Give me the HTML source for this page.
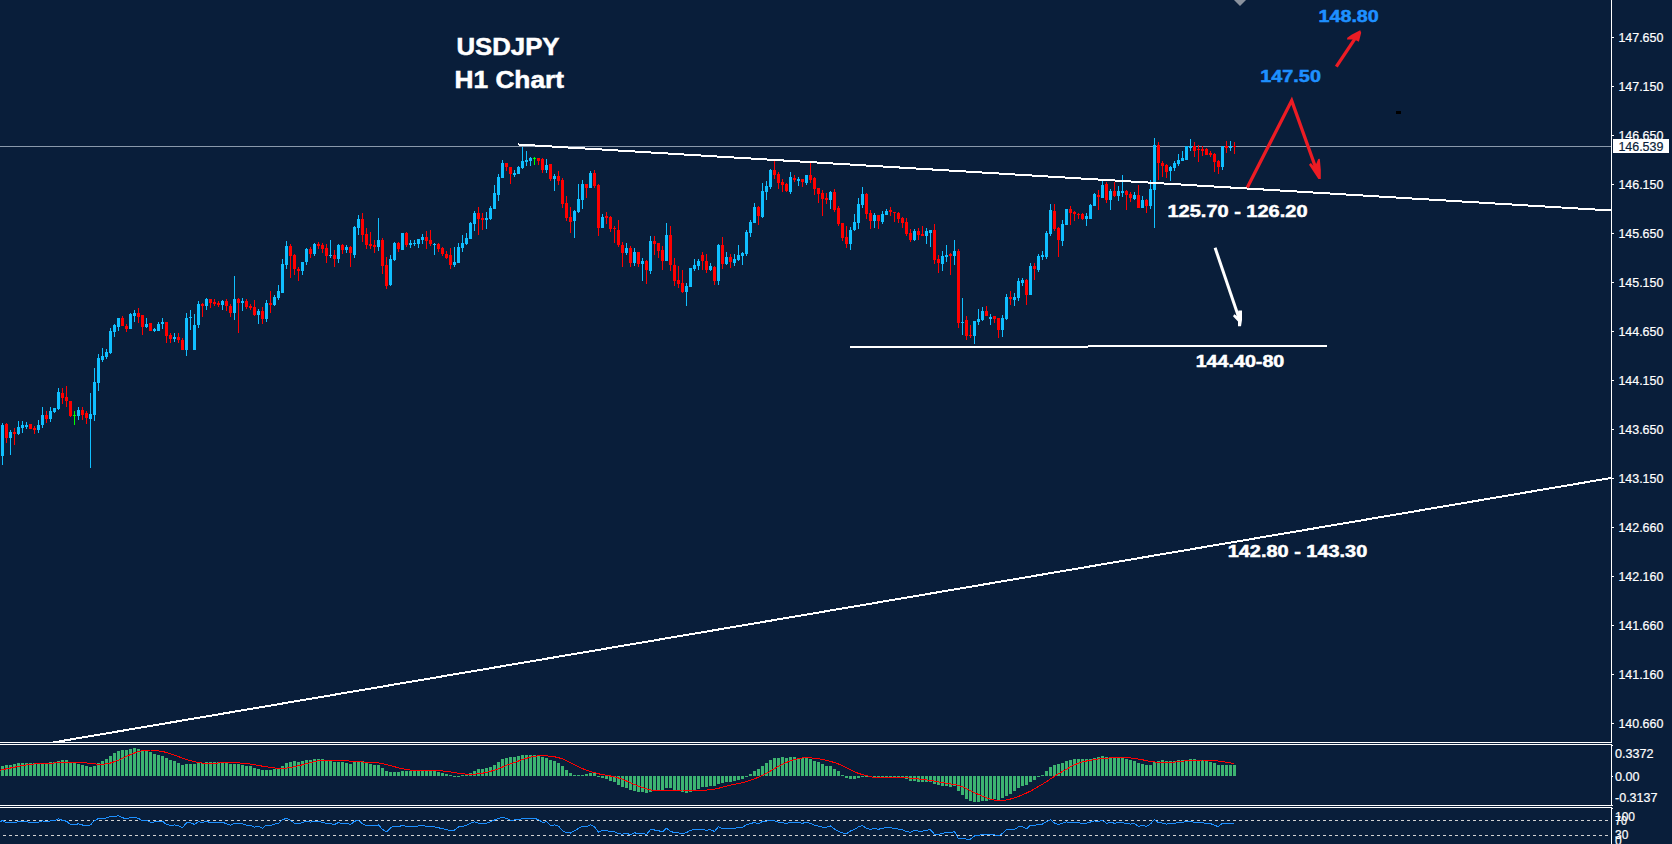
<!DOCTYPE html>
<html><head><meta charset="utf-8"><title>USDJPY H1 Chart</title>
<style>html,body{margin:0;padding:0;background:#091e3a;width:1672px;height:844px;overflow:hidden}</style>
</head><body>
<svg width="1672" height="844" viewBox="0 0 1672 844" style="position:absolute;left:0;top:0">
<rect width="1672" height="844" fill="#091e3a"/>
<g shape-rendering="crispEdges">
<rect x="0" y="146" width="1611" height="1" fill="#8a99ab"/>
<path fill="#10bfff" d="M2 423h1v42h-1zM1 425h3v31h-3zM10 430h1v25h-1zM9 432h3v6h-3zM18 421h1v14h-1zM17 427h3v7h-3zM22 421h1v12h-1zM21 425h3v3h-3zM26 422h1v7h-1zM25 425h3v2h-3zM38 420h1v13h-1zM37 425h3v5h-3zM42 407h1v21h-1zM41 415h3v10h-3zM50 407h1v15h-1zM49 411h3v8h-3zM54 408h1v5h-1zM53 408h3v4h-3zM58 388h1v22h-1zM57 392h3v17h-3zM78 407h1v13h-1zM77 410h3v6h-3zM90 393h1v75h-1zM89 414h3v5h-3zM94 368h1v53h-1zM93 382h3v33h-3zM98 354h1v37h-1zM97 358h3v25h-3zM102 348h1v14h-1zM101 356h3v4h-3zM106 349h1v10h-1zM105 352h3v5h-3zM110 328h1v26h-1zM109 331h3v22h-3zM114 324h1v13h-1zM113 325h3v7h-3zM118 318h1v13h-1zM117 318h3v9h-3zM130 313h1v16h-1zM129 314h3v15h-3zM134 310h1v12h-1zM133 313h3v3h-3zM146 318h1v10h-1zM145 324h3v3h-3zM154 328h1v4h-1zM153 329h3v2h-3zM158 322h1v9h-1zM157 324h3v7h-3zM162 318h1v11h-1zM161 322h3v2h-3zM174 333h1v9h-1zM173 337h3v2h-3zM186 313h1v43h-1zM185 318h3v32h-3zM190 310h1v20h-1zM189 317h3v1h-3zM194 314h1v36h-1zM193 325h3v25h-3zM198 301h1v27h-1zM197 304h3v21h-3zM206 298h1v12h-1zM205 299h3v7h-3zM222 300h1v10h-1zM221 301h3v4h-3zM234 276h1v44h-1zM233 299h3v14h-3zM242 298h1v13h-1zM241 301h3v2h-3zM258 309h1v15h-1zM257 311h3v4h-3zM266 300h1v22h-1zM265 303h3v16h-3zM274 295h1v11h-1zM273 297h3v8h-3zM278 285h1v15h-1zM277 291h3v7h-3zM282 259h1v34h-1zM281 264h3v29h-3zM286 241h1v28h-1zM285 246h3v19h-3zM302 262h1v13h-1zM301 262h3v9h-3zM306 248h1v17h-1zM305 249h3v13h-3zM314 243h1v13h-1zM313 244h3v10h-3zM330 240h1v18h-1zM329 255h3v1h-3zM338 244h1v19h-1zM337 245h3v14h-3zM346 245h1v8h-1zM345 247h3v3h-3zM354 226h1v32h-1zM353 227h3v28h-3zM358 215h1v20h-1zM357 219h3v9h-3zM378 218h1v33h-1zM377 240h3v7h-3zM390 255h1v31h-1zM389 259h3v26h-3zM394 242h1v19h-1zM393 243h3v17h-3zM402 233h1v17h-1zM401 233h3v17h-3zM410 240h1v8h-1zM409 243h3v2h-3zM414 240h1v6h-1zM413 243h3v1h-3zM418 239h1v9h-1zM417 239h3v5h-3zM422 234h1v10h-1zM421 237h3v3h-3zM434 243h1v12h-1zM433 244h3v1h-3zM454 247h1v20h-1zM453 262h3v3h-3zM458 243h1v20h-1zM457 247h3v16h-3zM462 235h1v17h-1zM461 243h3v5h-3zM466 233h1v12h-1zM465 238h3v6h-3zM470 222h1v17h-1zM469 223h3v16h-3zM474 211h1v20h-1zM473 213h3v11h-3zM486 212h1v17h-1zM485 218h3v2h-3zM490 206h1v14h-1zM489 208h3v11h-3zM494 185h1v24h-1zM493 193h3v16h-3zM498 174h1v27h-1zM497 177h3v18h-3zM502 160h1v18h-1zM501 163h3v15h-3zM514 170h1v7h-1zM513 173h3v2h-3zM518 166h1v8h-1zM517 167h3v7h-3zM522 147h1v22h-1zM521 161h3v7h-3zM526 151h1v15h-1zM525 160h3v2h-3zM530 157h1v9h-1zM529 158h3v3h-3zM546 159h1v14h-1zM545 165h3v5h-3zM554 174h1v17h-1zM553 176h3v3h-3zM574 210h1v28h-1zM573 211h3v10h-3zM578 184h1v29h-1zM577 199h3v13h-3zM582 180h1v29h-1zM581 184h3v16h-3zM590 171h1v17h-1zM589 173h3v15h-3zM602 214h1v14h-1zM601 217h3v11h-3zM626 243h1v12h-1zM625 248h3v5h-3zM634 248h1v18h-1zM633 252h3v11h-3zM642 258h1v23h-1zM641 261h3v3h-3zM650 236h1v38h-1zM649 241h3v30h-3zM666 223h1v38h-1zM665 235h3v26h-3zM686 283h1v23h-1zM685 286h3v6h-3zM690 268h1v19h-1zM689 268h3v19h-3zM694 259h1v12h-1zM693 265h3v4h-3zM698 259h1v11h-1zM697 261h3v5h-3zM710 263h1v8h-1zM709 266h3v4h-3zM718 244h1v41h-1zM717 245h3v36h-3zM726 252h1v13h-1zM725 257h3v7h-3zM734 254h1v12h-1zM733 259h3v4h-3zM738 245h1v16h-1zM737 255h3v5h-3zM742 252h1v13h-1zM741 253h3v3h-3zM746 230h1v26h-1zM745 232h3v22h-3zM750 220h1v17h-1zM749 222h3v11h-3zM754 203h1v20h-1zM753 207h3v16h-3zM762 183h1v35h-1zM761 191h3v26h-3zM766 181h1v19h-1zM765 186h3v6h-3zM770 169h1v20h-1zM769 170h3v17h-3zM790 172h1v22h-1zM789 177h3v15h-3zM798 177h1v9h-1zM797 179h3v2h-3zM806 175h1v10h-1zM805 175h3v8h-3zM830 191h1v18h-1zM829 192h3v8h-3zM850 227h1v23h-1zM849 230h3v14h-3zM854 214h1v17h-1zM853 222h3v8h-3zM858 198h1v31h-1zM857 204h3v19h-3zM862 187h1v21h-1zM861 194h3v11h-3zM874 213h1v15h-1zM873 215h3v6h-3zM882 211h1v13h-1zM881 214h3v8h-3zM886 209h1v6h-1zM885 211h3v4h-3zM914 229h1v12h-1zM913 231h3v9h-3zM926 228h1v16h-1zM925 231h3v5h-3zM930 230h1v17h-1zM929 230h3v3h-3zM942 251h1v20h-1zM941 256h3v8h-3zM946 245h1v17h-1zM945 255h3v2h-3zM954 240h1v25h-1zM953 251h3v5h-3zM962 298h1v37h-1zM961 322h3v1h-3zM974 321h1v23h-1zM973 321h3v15h-3zM978 309h1v16h-1zM977 319h3v3h-3zM982 307h1v14h-1zM981 311h3v9h-3zM990 314h1v11h-1zM989 317h3v2h-3zM1002 315h1v22h-1zM1001 318h3v12h-3zM1006 294h1v26h-1zM1005 297h3v22h-3zM1014 293h1v13h-1zM1013 297h3v3h-3zM1018 278h1v23h-1zM1017 281h3v17h-3zM1022 278h1v8h-1zM1021 280h3v3h-3zM1030 263h1v32h-1zM1029 266h3v29h-3zM1038 254h1v18h-1zM1037 256h3v14h-3zM1042 251h1v9h-1zM1041 255h3v2h-3zM1046 231h1v28h-1zM1045 233h3v24h-3zM1050 204h1v32h-1zM1049 210h3v24h-3zM1062 220h1v26h-1zM1061 224h3v17h-3zM1066 209h1v16h-1zM1065 209h3v16h-3zM1086 213h1v13h-1zM1085 216h3v3h-3zM1090 204h1v15h-1zM1089 205h3v14h-3zM1094 193h1v13h-1zM1093 194h3v12h-3zM1102 181h1v17h-1zM1101 185h3v13h-3zM1110 189h1v21h-1zM1109 191h3v9h-3zM1118 186h1v15h-1zM1117 191h3v5h-3zM1122 175h1v22h-1zM1121 191h3v2h-3zM1134 192h1v8h-1zM1133 195h3v4h-3zM1142 196h1v12h-1zM1141 200h3v8h-3zM1150 180h1v29h-1zM1149 189h3v17h-3zM1154 138h1v90h-1zM1153 145h3v45h-3zM1170 166h1v15h-1zM1169 167h3v4h-3zM1174 161h1v10h-1zM1173 163h3v5h-3zM1178 154h1v12h-1zM1177 160h3v4h-3zM1182 151h1v10h-1zM1181 158h3v3h-3zM1186 146h1v14h-1zM1185 146h3v14h-3zM1190 139h1v12h-1zM1189 146h3v2h-3zM1222 146h1v24h-1zM1221 146h3v21h-3zM1230 141h1v10h-1zM1229 146h3v2h-3z"/>
<path fill="#ff0000" d="M6 423h1v20h-1zM5 424h3v14h-3zM14 428h1v17h-1zM13 432h3v2h-3zM30 424h1v5h-1zM29 424h3v5h-3zM34 426h1v8h-1zM33 428h3v2h-3zM46 411h1v12h-1zM45 415h3v4h-3zM62 388h1v16h-1zM61 393h3v5h-3zM66 386h1v21h-1zM65 397h3v4h-3zM70 401h1v16h-1zM69 401h3v15h-3zM82 407h1v13h-1zM81 410h3v5h-3zM86 411h1v13h-1zM85 413h3v5h-3zM122 316h1v10h-1zM121 318h3v8h-3zM126 324h1v8h-1zM125 326h3v3h-3zM138 308h1v15h-1zM137 313h3v4h-3zM142 315h1v20h-1zM141 315h3v12h-3zM150 323h1v8h-1zM149 323h3v8h-3zM166 322h1v21h-1zM165 322h3v14h-3zM170 333h1v10h-1zM169 335h3v4h-3zM178 333h1v10h-1zM177 337h3v3h-3zM182 338h1v12h-1zM181 340h3v10h-3zM202 303h1v14h-1zM201 304h3v2h-3zM210 299h1v9h-1zM209 299h3v4h-3zM214 299h1v7h-1zM213 302h3v2h-3zM218 301h1v6h-1zM217 303h3v2h-3zM226 299h1v12h-1zM225 301h3v5h-3zM230 304h1v13h-1zM229 306h3v7h-3zM238 298h1v35h-1zM237 299h3v4h-3zM246 299h1v10h-1zM245 301h3v6h-3zM250 304h1v6h-1zM249 306h3v2h-3zM254 300h1v16h-1zM253 307h3v8h-3zM262 307h1v17h-1zM261 311h3v8h-3zM270 291h1v22h-1zM269 303h3v2h-3zM290 244h1v34h-1zM289 246h3v10h-3zM294 254h1v21h-1zM293 255h3v14h-3zM298 267h1v14h-1zM297 269h3v2h-3zM310 247h1v11h-1zM309 249h3v5h-3zM318 242h1v7h-1zM317 244h3v2h-3zM322 243h1v10h-1zM321 245h3v4h-3zM326 244h1v19h-1zM325 248h3v8h-3zM334 250h1v17h-1zM333 255h3v4h-3zM342 244h1v10h-1zM341 245h3v5h-3zM350 246h1v21h-1zM349 247h3v6h-3zM362 213h1v29h-1zM361 219h3v16h-3zM366 228h1v21h-1zM365 234h3v11h-3zM370 232h1v17h-1zM369 244h3v2h-3zM374 240h1v13h-1zM373 245h3v2h-3zM382 238h1v36h-1zM381 240h3v26h-3zM386 257h1v32h-1zM385 265h3v21h-3zM398 242h1v10h-1zM397 243h3v6h-3zM406 232h1v15h-1zM405 233h3v12h-3zM426 231h1v18h-1zM425 237h3v4h-3zM430 230h1v16h-1zM429 240h3v4h-3zM438 243h1v9h-1zM437 244h3v5h-3zM442 247h1v9h-1zM441 248h3v6h-3zM446 251h1v8h-1zM445 254h3v4h-3zM450 248h1v21h-1zM449 255h3v10h-3zM478 207h1v28h-1zM477 213h3v6h-3zM482 213h1v17h-1zM481 218h3v2h-3zM506 163h1v8h-1zM505 163h3v4h-3zM510 167h1v17h-1zM509 167h3v7h-3zM538 158h1v7h-1zM537 158h3v3h-3zM542 158h1v15h-1zM541 159h3v11h-3zM550 164h1v17h-1zM549 164h3v15h-3zM558 171h1v14h-1zM557 176h3v5h-3zM562 178h1v30h-1zM561 180h3v24h-3zM566 196h1v25h-1zM565 203h3v15h-3zM570 207h1v26h-1zM569 217h3v5h-3zM586 184h1v14h-1zM585 184h3v4h-3zM594 170h1v18h-1zM593 173h3v13h-3zM598 184h1v52h-1zM597 185h3v43h-3zM606 212h1v12h-1zM605 216h3v2h-3zM610 216h1v16h-1zM609 217h3v12h-3zM614 226h1v17h-1zM613 228h3v1h-3zM618 220h1v27h-1zM617 230h3v15h-3zM622 242h1v25h-1zM621 245h3v8h-3zM630 246h1v21h-1zM629 248h3v15h-3zM638 252h1v15h-1zM637 252h3v12h-3zM646 260h1v24h-1zM645 261h3v9h-3zM654 236h1v19h-1zM653 241h3v3h-3zM658 243h1v15h-1zM657 243h3v8h-3zM662 246h1v24h-1zM661 250h3v11h-3zM670 226h1v45h-1zM669 235h3v30h-3zM674 258h1v28h-1zM673 265h3v16h-3zM678 266h1v22h-1zM677 280h3v4h-3zM682 270h1v23h-1zM681 283h3v9h-3zM702 252h1v18h-1zM701 255h3v6h-3zM706 254h1v19h-1zM705 261h3v9h-3zM714 266h1v19h-1zM713 267h3v14h-3zM722 237h1v32h-1zM721 245h3v19h-3zM730 254h1v14h-1zM729 257h3v5h-3zM758 206h1v19h-1zM757 207h3v9h-3zM774 161h1v18h-1zM773 170h3v5h-3zM778 172h1v17h-1zM777 174h3v9h-3zM782 179h1v13h-1zM781 182h3v3h-3zM786 183h1v9h-1zM785 184h3v7h-3zM794 175h1v7h-1zM793 178h3v2h-3zM802 179h1v8h-1zM801 179h3v3h-3zM810 163h1v20h-1zM809 175h3v5h-3zM814 177h1v18h-1zM813 178h3v11h-3zM818 188h1v15h-1zM817 188h3v6h-3zM822 190h1v26h-1zM821 193h3v6h-3zM826 193h1v11h-1zM825 198h3v2h-3zM834 189h1v23h-1zM833 192h3v18h-3zM838 206h1v20h-1zM837 208h3v16h-3zM842 223h1v18h-1zM841 223h3v15h-3zM846 226h1v22h-1zM845 237h3v7h-3zM866 193h1v26h-1zM865 194h3v20h-3zM870 210h1v19h-1zM869 213h3v8h-3zM878 215h1v14h-1zM877 215h3v6h-3zM890 207h1v9h-1zM889 210h3v2h-3zM894 212h1v10h-1zM893 212h3v1h-3zM898 212h1v11h-1zM897 213h3v6h-3zM902 217h1v11h-1zM901 218h3v5h-3zM906 218h1v18h-1zM905 222h3v12h-3zM910 229h1v13h-1zM909 233h3v7h-3zM918 228h1v12h-1zM917 231h3v4h-3zM922 226h1v10h-1zM921 234h3v2h-3zM934 224h1v40h-1zM933 230h3v30h-3zM938 255h1v18h-1zM937 259h3v4h-3zM950 253h1v22h-1zM949 254h3v2h-3zM958 249h1v79h-1zM957 251h3v72h-3zM966 316h1v24h-1zM965 320h3v16h-3zM970 325h1v13h-1zM969 335h3v1h-3zM986 306h1v10h-1zM985 311h3v5h-3zM994 316h1v7h-1zM993 316h3v3h-3zM998 318h1v20h-1zM997 318h3v12h-3zM1010 291h1v14h-1zM1009 297h3v2h-3zM1026 279h1v26h-1zM1025 280h3v15h-3zM1034 263h1v17h-1zM1033 266h3v3h-3zM1054 204h1v27h-1zM1053 211h3v18h-3zM1058 227h1v30h-1zM1057 228h3v12h-3zM1070 206h1v19h-1zM1069 209h3v4h-3zM1074 211h1v10h-1zM1073 212h3v2h-3zM1078 213h1v6h-1zM1077 214h3v1h-3zM1082 213h1v7h-1zM1081 214h3v5h-3zM1098 190h1v20h-1zM1097 195h3v2h-3zM1106 182h1v21h-1zM1105 184h3v16h-3zM1114 182h1v15h-1zM1113 191h3v5h-3zM1126 190h1v20h-1zM1125 191h3v4h-3zM1130 192h1v10h-1zM1129 194h3v4h-3zM1138 185h1v23h-1zM1137 195h3v13h-3zM1146 199h1v14h-1zM1145 200h3v6h-3zM1158 142h1v38h-1zM1157 145h3v18h-3zM1162 161h1v16h-1zM1161 163h3v3h-3zM1166 164h1v14h-1zM1165 165h3v7h-3zM1194 142h1v15h-1zM1193 146h3v5h-3zM1198 145h1v17h-1zM1197 149h3v1h-3zM1202 146h1v10h-1zM1201 149h3v2h-3zM1206 148h1v7h-1zM1205 149h3v6h-3zM1210 151h1v6h-1zM1209 153h3v2h-3zM1214 153h1v19h-1zM1213 154h3v8h-3zM1218 160h1v14h-1zM1217 161h3v6h-3zM1226 141h1v12h-1zM1225 146h3v2h-3zM1234 142h1v12h-1zM1233 146h3v1h-3z"/>
<path fill="#00ff00" d="M74 411h1v14h-1zM73 415h3v1h-3zM534 157h1v8h-1zM533 158h3v1h-3z"/>
<path fill="#3cb371" d="M1 766h3v10h-3zM5 765h3v11h-3zM9 765h3v11h-3zM13 764h3v12h-3zM17 763h3v13h-3zM21 763h3v13h-3zM25 763h3v13h-3zM29 763h3v13h-3zM33 763h3v13h-3zM37 763h3v13h-3zM41 764h3v12h-3zM45 764h3v12h-3zM49 762h3v14h-3zM53 762h3v14h-3zM57 761h3v15h-3zM61 760h3v16h-3zM65 760h3v16h-3zM69 763h3v13h-3zM73 763h3v13h-3zM77 764h3v12h-3zM81 765h3v11h-3zM85 766h3v10h-3zM89 767h3v9h-3zM93 766h3v10h-3zM97 763h3v13h-3zM101 761h3v15h-3zM105 759h3v17h-3zM109 756h3v20h-3zM113 753h3v23h-3zM117 751h3v25h-3zM121 750h3v26h-3zM125 750h3v26h-3zM129 749h3v27h-3zM133 748h3v28h-3zM137 749h3v27h-3zM141 750h3v26h-3zM145 751h3v25h-3zM149 752h3v24h-3zM153 754h3v22h-3zM157 755h3v21h-3zM161 756h3v20h-3zM165 758h3v18h-3zM169 760h3v16h-3zM173 761h3v15h-3zM177 763h3v13h-3zM181 765h3v11h-3zM185 764h3v12h-3zM189 764h3v12h-3zM193 764h3v12h-3zM197 763h3v13h-3zM201 763h3v13h-3zM205 762h3v14h-3zM209 762h3v14h-3zM213 762h3v14h-3zM217 762h3v14h-3zM221 762h3v14h-3zM225 763h3v13h-3zM229 764h3v12h-3zM233 764h3v12h-3zM237 764h3v12h-3zM241 765h3v11h-3zM245 766h3v10h-3zM249 766h3v10h-3zM253 768h3v8h-3zM257 769h3v7h-3zM261 770h3v6h-3zM265 770h3v6h-3zM269 770h3v6h-3zM273 769h3v7h-3zM277 769h3v7h-3zM281 766h3v10h-3zM285 763h3v13h-3zM289 762h3v14h-3zM293 761h3v15h-3zM297 762h3v14h-3zM301 761h3v15h-3zM305 760h3v16h-3zM309 760h3v16h-3zM313 759h3v17h-3zM317 759h3v17h-3zM321 759h3v17h-3zM325 760h3v16h-3zM329 761h3v15h-3zM333 762h3v14h-3zM337 762h3v14h-3zM341 762h3v14h-3zM345 763h3v13h-3zM349 764h3v12h-3zM353 762h3v14h-3zM357 761h3v15h-3zM361 761h3v15h-3zM365 763h3v13h-3zM369 764h3v12h-3zM373 765h3v11h-3zM377 765h3v11h-3zM381 768h3v8h-3zM385 771h3v5h-3zM389 772h3v4h-3zM393 772h3v4h-3zM397 772h3v4h-3zM401 771h3v5h-3zM405 771h3v5h-3zM409 771h3v5h-3zM413 771h3v5h-3zM417 770h3v6h-3zM421 770h3v6h-3zM425 770h3v6h-3zM429 771h3v5h-3zM433 771h3v5h-3zM437 772h3v4h-3zM441 773h3v3h-3zM445 774h3v2h-3zM449 775h3v1h-3zM453 776h3v1h-3zM457 776h3v1h-3zM461 775h3v1h-3zM465 774h3v2h-3zM469 773h3v3h-3zM473 771h3v5h-3zM477 769h3v7h-3zM481 769h3v7h-3zM485 768h3v8h-3zM489 767h3v9h-3zM493 765h3v11h-3zM497 762h3v14h-3zM501 759h3v17h-3zM505 758h3v18h-3zM509 757h3v19h-3zM513 757h3v19h-3zM517 756h3v20h-3zM521 755h3v21h-3zM525 755h3v21h-3zM529 755h3v21h-3zM533 755h3v21h-3zM537 756h3v20h-3zM541 757h3v19h-3zM545 758h3v18h-3zM549 760h3v16h-3zM553 761h3v15h-3zM557 763h3v13h-3zM561 766h3v10h-3zM565 770h3v6h-3zM569 773h3v3h-3zM573 775h3v1h-3zM577 775h3v1h-3zM581 775h3v1h-3zM585 774h3v2h-3zM589 773h3v3h-3zM593 773h3v3h-3zM597 776h3v1h-3zM601 776h3v2h-3zM605 776h3v3h-3zM609 776h3v5h-3zM613 776h3v6h-3zM617 776h3v9h-3zM621 776h3v11h-3zM625 776h3v12h-3zM629 776h3v14h-3zM633 776h3v15h-3zM637 776h3v16h-3zM641 776h3v16h-3zM645 776h3v17h-3zM649 776h3v16h-3zM653 776h3v14h-3zM657 776h3v14h-3zM661 776h3v14h-3zM665 776h3v12h-3zM669 776h3v12h-3zM673 776h3v14h-3zM677 776h3v15h-3zM681 776h3v16h-3zM685 776h3v17h-3zM689 776h3v16h-3zM693 776h3v14h-3zM697 776h3v13h-3zM701 776h3v11h-3zM705 776h3v11h-3zM709 776h3v10h-3zM713 776h3v10h-3zM717 776h3v8h-3zM721 776h3v7h-3zM725 776h3v6h-3zM729 776h3v6h-3zM733 776h3v5h-3zM737 776h3v4h-3zM741 776h3v3h-3zM745 776h3v1h-3zM749 774h3v2h-3zM753 771h3v5h-3zM757 769h3v7h-3zM761 766h3v10h-3zM765 763h3v13h-3zM769 760h3v16h-3zM773 758h3v18h-3zM777 758h3v18h-3zM781 757h3v19h-3zM785 758h3v18h-3zM789 757h3v19h-3zM793 757h3v19h-3zM797 758h3v18h-3zM801 758h3v18h-3zM805 758h3v18h-3zM809 759h3v17h-3zM813 761h3v15h-3zM817 762h3v14h-3zM821 764h3v12h-3zM825 766h3v10h-3zM829 766h3v10h-3zM833 769h3v7h-3zM837 771h3v5h-3zM841 775h3v1h-3zM845 776h3v2h-3zM849 776h3v3h-3zM853 776h3v3h-3zM857 776h3v2h-3zM861 776h3v1h-3zM865 776h3v1h-3zM869 776h3v1h-3zM873 776h3v2h-3zM877 776h3v2h-3zM881 776h3v2h-3zM885 776h3v2h-3zM889 776h3v1h-3zM893 776h3v1h-3zM897 776h3v2h-3zM901 776h3v2h-3zM905 776h3v3h-3zM909 776h3v5h-3zM913 776h3v5h-3zM917 776h3v6h-3zM921 776h3v6h-3zM925 776h3v6h-3zM929 776h3v6h-3zM933 776h3v8h-3zM937 776h3v9h-3zM941 776h3v10h-3zM945 776h3v10h-3zM949 776h3v11h-3zM953 776h3v10h-3zM957 776h3v15h-3zM961 776h3v19h-3zM965 776h3v23h-3zM969 776h3v25h-3zM973 776h3v26h-3zM977 776h3v26h-3zM981 776h3v25h-3zM985 776h3v25h-3zM989 776h3v24h-3zM993 776h3v23h-3zM997 776h3v24h-3zM1001 776h3v22h-3zM1005 776h3v20h-3zM1009 776h3v18h-3zM1013 776h3v15h-3zM1017 776h3v12h-3zM1021 776h3v10h-3zM1025 776h3v9h-3zM1029 776h3v6h-3zM1033 776h3v4h-3zM1037 776h3v1h-3zM1041 775h3v1h-3zM1045 771h3v5h-3zM1049 767h3v9h-3zM1053 765h3v11h-3zM1057 764h3v12h-3zM1061 763h3v13h-3zM1065 761h3v15h-3zM1069 760h3v16h-3zM1073 759h3v17h-3zM1077 759h3v17h-3zM1081 759h3v17h-3zM1085 759h3v17h-3zM1089 759h3v17h-3zM1093 758h3v18h-3zM1097 757h3v19h-3zM1101 756h3v20h-3zM1105 757h3v19h-3zM1109 757h3v19h-3zM1113 758h3v18h-3zM1117 758h3v18h-3zM1121 758h3v18h-3zM1125 759h3v17h-3zM1129 760h3v16h-3zM1133 761h3v15h-3zM1137 763h3v13h-3zM1141 764h3v12h-3zM1145 765h3v11h-3zM1149 765h3v11h-3zM1153 762h3v14h-3zM1157 761h3v15h-3zM1161 760h3v16h-3zM1165 761h3v15h-3zM1169 761h3v15h-3zM1173 761h3v15h-3zM1177 760h3v16h-3zM1181 760h3v16h-3zM1185 760h3v16h-3zM1189 759h3v17h-3zM1193 759h3v17h-3zM1197 760h3v16h-3zM1201 760h3v16h-3zM1205 761h3v15h-3zM1209 762h3v14h-3zM1213 763h3v13h-3zM1217 765h3v11h-3zM1221 765h3v11h-3zM1225 765h3v11h-3zM1229 765h3v11h-3zM1233 765h3v11h-3z"/>
</g>
<polyline fill="none" stroke="#ff0000" stroke-width="1" stroke-linejoin="bevel" shape-rendering="crispEdges" points="-1.5,770.6 2.5,769.7 6.5,768.8 10.5,768.0 14.5,767.2 18.5,766.4 22.5,765.6 26.5,765.0 30.5,764.5 34.5,764.0 38.5,763.7 42.5,763.5 46.5,763.3 50.5,763.1 54.5,763.0 58.5,762.8 62.5,762.5 66.5,762.2 70.5,762.2 74.5,762.2 78.5,762.2 82.5,762.4 86.5,762.9 90.5,763.4 94.5,763.9 98.5,764.2 102.5,764.3 106.5,763.8 110.5,763.0 114.5,761.7 118.5,760.1 122.5,758.3 126.5,756.4 130.5,754.6 134.5,753.0 138.5,751.6 142.5,750.7 146.5,750.1 150.5,750.0 154.5,750.3 158.5,750.9 162.5,751.5 166.5,752.5 170.5,753.7 174.5,755.1 178.5,756.6 182.5,758.1 186.5,759.5 190.5,760.6 194.5,761.7 198.5,762.5 202.5,763.1 206.5,763.3 210.5,763.4 214.5,763.3 218.5,763.0 222.5,762.8 226.5,762.6 230.5,762.6 234.5,762.7 238.5,762.9 242.5,763.2 246.5,763.6 250.5,764.1 254.5,764.7 258.5,765.4 262.5,766.2 266.5,766.8 270.5,767.4 274.5,768.0 278.5,768.4 282.5,768.5 286.5,768.1 290.5,767.5 294.5,766.7 298.5,765.7 302.5,764.8 306.5,763.7 310.5,762.7 314.5,761.6 318.5,760.8 322.5,760.3 326.5,760.2 330.5,760.1 334.5,760.1 338.5,760.2 342.5,760.4 346.5,760.7 350.5,761.2 354.5,761.6 358.5,761.8 362.5,762.0 366.5,762.2 370.5,762.4 374.5,762.7 378.5,763.0 382.5,763.6 386.5,764.5 390.5,765.6 394.5,766.7 398.5,767.9 402.5,768.7 406.5,769.5 410.5,770.1 414.5,770.7 418.5,771.0 422.5,770.9 426.5,770.7 430.5,770.6 434.5,770.6 438.5,770.8 442.5,771.0 446.5,771.4 450.5,771.9 454.5,772.6 458.5,773.2 462.5,773.8 466.5,774.2 470.5,774.4 474.5,774.2 478.5,773.8 482.5,773.2 486.5,772.4 490.5,771.3 494.5,770.1 498.5,768.7 502.5,767.0 506.5,765.3 510.5,763.8 514.5,762.4 518.5,761.0 522.5,759.6 526.5,758.3 530.5,757.1 534.5,756.3 538.5,755.9 542.5,755.8 546.5,755.9 550.5,756.3 554.5,756.8 558.5,757.7 562.5,758.9 566.5,760.6 570.5,762.6 574.5,764.7 578.5,766.8 582.5,768.6 586.5,770.2 590.5,771.5 594.5,772.7 598.5,773.8 602.5,774.7 606.5,775.3 610.5,776.0 614.5,776.8 618.5,778.0 622.5,779.3 626.5,781.0 630.5,782.9 634.5,784.5 638.5,786.1 642.5,787.5 646.5,788.9 650.5,789.9 654.5,790.5 658.5,790.8 662.5,791.0 666.5,790.7 670.5,790.5 674.5,790.2 678.5,790.1 682.5,790.0 686.5,790.1 690.5,790.3 694.5,790.4 698.5,790.3 702.5,790.2 706.5,790.1 710.5,789.7 714.5,789.2 718.5,788.3 722.5,787.2 726.5,786.2 730.5,785.2 734.5,784.3 738.5,783.5 742.5,782.6 746.5,781.6 750.5,780.2 754.5,778.8 758.5,777.2 762.5,775.4 766.5,773.4 770.5,771.1 774.5,768.7 778.5,766.3 782.5,764.2 786.5,762.4 790.5,760.9 794.5,759.5 798.5,758.6 802.5,758.0 806.5,757.8 810.5,757.9 814.5,758.3 818.5,758.8 822.5,759.5 826.5,760.4 830.5,761.4 834.5,762.6 838.5,764.0 842.5,765.8 846.5,767.9 850.5,769.9 854.5,771.8 858.5,773.4 862.5,774.6 866.5,775.7 870.5,776.7 874.5,777.4 878.5,777.8 882.5,777.9 886.5,777.7 890.5,777.5 894.5,777.4 898.5,777.5 902.5,777.6 906.5,777.8 910.5,778.2 914.5,778.5 918.5,778.9 922.5,779.4 926.5,779.9 930.5,780.4 934.5,781.1 938.5,781.9 942.5,782.6 946.5,783.2 950.5,783.9 954.5,784.4 958.5,785.4 962.5,786.9 966.5,788.8 970.5,790.8 974.5,792.7 978.5,794.5 982.5,796.1 986.5,797.7 990.5,799.2 994.5,800.1 998.5,800.6 1002.5,800.6 1006.5,799.9 1010.5,799.0 1014.5,797.8 1018.5,796.4 1022.5,794.7 1026.5,793.0 1030.5,791.1 1034.5,788.8 1038.5,786.4 1042.5,784.1 1046.5,781.6 1050.5,778.9 1054.5,776.3 1058.5,773.9 1062.5,771.4 1066.5,769.1 1070.5,766.9 1074.5,764.9 1078.5,763.2 1082.5,761.8 1086.5,761.0 1090.5,760.3 1094.5,759.6 1098.5,758.9 1102.5,758.4 1106.5,758.2 1110.5,757.9 1114.5,757.8 1118.5,757.7 1122.5,757.6 1126.5,757.7 1130.5,758.0 1134.5,758.4 1138.5,759.1 1142.5,759.8 1146.5,760.7 1150.5,761.6 1154.5,762.0 1158.5,762.2 1162.5,762.4 1166.5,762.4 1170.5,762.3 1174.5,762.1 1178.5,761.7 1182.5,761.2 1186.5,760.6 1190.5,760.3 1194.5,760.1 1198.5,760.1 1202.5,760.0 1206.5,760.1 1210.5,760.3 1214.5,760.6 1218.5,761.1 1222.5,761.6 1226.5,762.2 1230.5,762.9 1234.5,763.5"/>
<g shape-rendering="crispEdges" stroke="#d2d2d2" stroke-width="1" stroke-dasharray="3 3">
<line x1="3" y1="820.5" x2="1611" y2="820.5"/><line x1="3" y1="835.5" x2="1611" y2="835.5"/>
</g>
<polyline fill="none" stroke="#1e90ff" stroke-width="1" stroke-linejoin="bevel" shape-rendering="crispEdges" points="-1.5,822.7 2.5,820.4 6.5,822.7 10.5,822.2 14.5,822.5 18.5,821.8 22.5,821.6 26.5,821.6 30.5,822.5 34.5,822.8 38.5,822.1 42.5,820.9 46.5,821.9 50.5,820.9 54.5,820.6 58.5,818.8 62.5,820.4 66.5,821.2 70.5,824.7 74.5,824.7 78.5,823.8 82.5,825.0 86.5,825.7 90.5,824.9 94.5,820.6 98.5,818.5 102.5,818.4 106.5,818.0 110.5,816.6 114.5,816.3 118.5,815.9 122.5,817.8 126.5,818.6 130.5,817.5 134.5,817.4 138.5,818.4 142.5,820.9 146.5,820.5 150.5,822.2 154.5,822.0 158.5,821.3 162.5,821.1 166.5,824.6 170.5,825.4 174.5,824.9 178.5,825.8 182.5,827.8 186.5,822.8 190.5,822.7 194.5,824.4 198.5,821.8 202.5,822.3 206.5,821.5 210.5,822.5 214.5,822.7 218.5,822.9 222.5,822.3 226.5,823.7 230.5,825.3 234.5,823.1 238.5,824.0 242.5,823.7 246.5,825.1 250.5,825.4 254.5,827.1 258.5,826.3 262.5,828.2 266.5,825.0 270.5,825.6 274.5,824.1 278.5,823.2 282.5,819.8 286.5,818.2 290.5,820.5 294.5,823.2 298.5,823.6 302.5,822.5 306.5,821.1 310.5,822.1 314.5,821.1 318.5,821.5 322.5,822.2 326.5,823.7 330.5,823.6 334.5,824.5 338.5,822.5 342.5,823.6 346.5,823.2 350.5,824.7 354.5,821.2 358.5,820.4 362.5,823.7 366.5,825.6 370.5,825.8 374.5,826.0 378.5,824.9 382.5,829.4 386.5,831.9 390.5,827.9 394.5,826.0 398.5,826.9 402.5,825.1 406.5,826.7 410.5,826.4 414.5,826.4 418.5,826.0 422.5,825.6 426.5,826.3 430.5,826.9 434.5,826.9 438.5,827.8 442.5,828.7 446.5,829.5 450.5,830.7 454.5,830.1 458.5,827.0 462.5,826.3 466.5,825.4 470.5,823.1 474.5,821.8 478.5,823.2 482.5,823.4 486.5,823.1 490.5,821.7 494.5,820.0 498.5,818.4 502.5,817.3 506.5,818.4 510.5,820.1 514.5,820.0 518.5,819.4 522.5,818.8 526.5,818.7 530.5,818.5 534.5,818.5 538.5,819.5 542.5,822.5 546.5,821.6 550.5,825.4 554.5,824.9 558.5,826.1 562.5,830.6 566.5,832.6 570.5,833.1 574.5,830.7 578.5,828.5 582.5,826.1 586.5,826.8 590.5,824.7 594.5,826.9 598.5,832.1 602.5,830.5 606.5,830.7 610.5,831.8 614.5,831.8 618.5,833.5 622.5,834.2 626.5,833.3 630.5,834.7 634.5,832.7 638.5,833.9 642.5,833.4 646.5,834.3 650.5,829.6 654.5,830.0 658.5,830.7 662.5,831.9 666.5,828.2 670.5,831.3 674.5,832.7 678.5,832.9 682.5,833.6 686.5,832.7 690.5,830.2 694.5,829.7 698.5,829.2 702.5,829.2 706.5,830.3 710.5,829.7 714.5,831.5 718.5,826.6 722.5,828.8 726.5,828.0 730.5,828.6 734.5,828.2 738.5,827.7 742.5,827.4 746.5,824.8 750.5,823.7 754.5,822.3 758.5,823.8 762.5,821.5 766.5,821.2 770.5,820.0 774.5,820.7 778.5,822.1 782.5,822.5 786.5,823.6 790.5,822.1 794.5,822.7 798.5,822.6 802.5,823.2 806.5,822.4 810.5,823.4 814.5,825.3 818.5,826.1 822.5,827.1 826.5,827.2 830.5,825.9 834.5,829.1 838.5,831.2 842.5,833.0 846.5,833.6 850.5,831.0 854.5,829.6 858.5,826.8 862.5,825.5 866.5,828.4 870.5,829.3 874.5,828.5 878.5,829.3 882.5,828.2 886.5,827.8 890.5,827.9 894.5,828.2 898.5,829.1 902.5,829.8 906.5,831.5 910.5,832.4 914.5,830.4 918.5,831.1 922.5,831.2 926.5,830.1 930.5,829.9 934.5,834.3 938.5,834.7 942.5,833.1 946.5,832.8 950.5,833.0 954.5,831.6 958.5,838.5 962.5,838.3 966.5,839.1 970.5,839.1 974.5,836.0 978.5,835.6 982.5,834.0 986.5,834.5 990.5,834.6 994.5,834.8 998.5,836.0 1002.5,833.3 1006.5,829.5 1010.5,829.8 1014.5,829.4 1018.5,826.9 1022.5,826.7 1026.5,829.1 1030.5,825.1 1034.5,825.6 1038.5,824.0 1042.5,824.0 1046.5,821.7 1050.5,819.8 1054.5,823.0 1058.5,824.6 1062.5,823.1 1066.5,821.9 1070.5,822.5 1074.5,822.6 1078.5,822.8 1082.5,823.5 1086.5,823.2 1090.5,822.0 1094.5,820.9 1098.5,821.5 1102.5,820.4 1106.5,823.3 1110.5,822.4 1114.5,823.2 1118.5,822.7 1122.5,822.7 1126.5,823.5 1130.5,824.1 1134.5,823.7 1138.5,826.5 1142.5,825.2 1146.5,826.5 1150.5,823.9 1154.5,819.6 1158.5,822.7 1162.5,823.1 1166.5,824.1 1170.5,823.6 1174.5,823.1 1178.5,822.8 1182.5,822.6 1186.5,821.2 1190.5,821.2 1194.5,822.4 1198.5,822.3 1202.5,822.6 1206.5,823.5 1210.5,823.5 1214.5,825.4 1218.5,826.6 1222.5,823.0 1226.5,823.5 1230.5,823.2 1234.5,823.5"/>
<g shape-rendering="crispEdges" stroke="#ffffff" fill="none">
<line x1="518" y1="144.46" x2="1611" y2="210.5" stroke-width="2"/>
<clipPath id="cm"><rect x="0" y="0" width="1612" height="742"/></clipPath>
<line x1="46" y1="743.65" x2="1611" y2="478" stroke-width="2" clip-path="url(#cm)"/>
<rect x="850" y="346" width="238" height="2" fill="#fff" stroke="none"/><rect x="1088" y="345" width="239" height="2" fill="#fff" stroke="none"/>
<rect x="0" y="742" width="1612" height="1" fill="#fff" stroke="none"/>
<rect x="0" y="744" width="1612" height="1" fill="#fff" stroke="none"/>
<rect x="0" y="805" width="1612" height="1" fill="#fff" stroke="none"/>
<rect x="0" y="807" width="1612" height="1" fill="#fff" stroke="none"/>
<rect x="1611" y="0" width="1" height="743" fill="#fff" stroke="none"/>
<rect x="1611" y="744" width="1" height="62" fill="#fff" stroke="none"/>
<rect x="1611" y="807" width="1" height="37" fill="#fff" stroke="none"/>
<rect x="1612" y="37" width="2" height="1" fill="#fff" stroke="none"/>
<rect x="1612" y="86" width="2" height="1" fill="#fff" stroke="none"/>
<rect x="1612" y="135" width="2" height="1" fill="#fff" stroke="none"/>
<rect x="1612" y="184" width="2" height="1" fill="#fff" stroke="none"/>
<rect x="1612" y="233" width="2" height="1" fill="#fff" stroke="none"/>
<rect x="1612" y="282" width="2" height="1" fill="#fff" stroke="none"/>
<rect x="1612" y="331" width="2" height="1" fill="#fff" stroke="none"/>
<rect x="1612" y="380" width="2" height="1" fill="#fff" stroke="none"/>
<rect x="1612" y="429" width="2" height="1" fill="#fff" stroke="none"/>
<rect x="1612" y="478" width="2" height="1" fill="#fff" stroke="none"/>
<rect x="1612" y="527" width="2" height="1" fill="#fff" stroke="none"/>
<rect x="1612" y="576" width="2" height="1" fill="#fff" stroke="none"/>
<rect x="1612" y="625" width="2" height="1" fill="#fff" stroke="none"/>
<rect x="1612" y="674" width="2" height="1" fill="#fff" stroke="none"/>
<rect x="1612" y="723" width="2" height="1" fill="#fff" stroke="none"/>
<rect x="1612" y="745" width="1" height="1" fill="#fff" stroke="none"/>
<rect x="1612" y="776" width="1" height="1" fill="#fff" stroke="none"/>
<rect x="1612" y="805" width="1" height="1" fill="#fff" stroke="none"/>
<rect x="1612" y="808" width="1" height="1" fill="#fff" stroke="none"/>
</g>
<rect x="1613" y="139" width="56" height="14" fill="#ffffff"/>
<rect x="1396" y="111" width="5" height="3" fill="#000"/>
<path d="M1234 0L1246 0L1240 6z" fill="#8a929e"/>
<g stroke="#ed1c24" fill="none" stroke-width="3.3" stroke-linecap="butt" stroke-linejoin="miter">
<polyline points="1247.3,187.5 1291.7,100.6 1315.8,168"/>
<line x1="1336.3" y1="66.6" x2="1355" y2="38.6"/>
</g>
<path d="M1319.8 158.8L1320.8 169.8L1320.8 179L1318.4 179L1309 164.8L1310.8 162.9L1313.6 166L1316.4 163.4L1318.2 158.9z" fill="#ed1c24"/>
<path d="M1360.2 30.2L1361.2 32.8L1358.9 41.8L1356.4 40.4L1354.5 39.6L1347 39.5L1347.3 37.8L1351.5 34.8z" fill="#ed1c24"/>
<g stroke="#fff" fill="none" stroke-width="3" stroke-linecap="butt">
<line x1="1215.1" y1="247.8" x2="1239.3" y2="319"/>
</g>
<path d="M1238.4 310.5L1242 310.5L1242 320L1241 326.3L1238 326.3L1238 321.5L1233 316.2L1234.3 314.2L1237 316z" fill="#fff"/>
<g font-family="'Liberation Sans', sans-serif" font-size="12" fill="#ffffff" stroke="#ffffff" stroke-width="0.2">
<text x="1618.4" y="41.6" textLength="45" lengthAdjust="spacingAndGlyphs">147.650</text>
<text x="1618.4" y="90.6" textLength="45" lengthAdjust="spacingAndGlyphs">147.150</text>
<text x="1618.4" y="139.7" textLength="45" lengthAdjust="spacingAndGlyphs">146.650</text>
<text x="1618.4" y="188.8" textLength="45" lengthAdjust="spacingAndGlyphs">146.150</text>
<text x="1618.4" y="237.8" textLength="45" lengthAdjust="spacingAndGlyphs">145.650</text>
<text x="1618.4" y="286.9" textLength="45" lengthAdjust="spacingAndGlyphs">145.150</text>
<text x="1618.4" y="335.9" textLength="45" lengthAdjust="spacingAndGlyphs">144.650</text>
<text x="1618.4" y="384.9" textLength="45" lengthAdjust="spacingAndGlyphs">144.150</text>
<text x="1618.4" y="434.0" textLength="45" lengthAdjust="spacingAndGlyphs">143.650</text>
<text x="1618.4" y="483.1" textLength="45" lengthAdjust="spacingAndGlyphs">143.150</text>
<text x="1618.4" y="532.1" textLength="45" lengthAdjust="spacingAndGlyphs">142.660</text>
<text x="1618.4" y="581.1" textLength="45" lengthAdjust="spacingAndGlyphs">142.160</text>
<text x="1618.4" y="630.2" textLength="45" lengthAdjust="spacingAndGlyphs">141.660</text>
<text x="1618.4" y="679.2" textLength="45" lengthAdjust="spacingAndGlyphs">141.160</text>
<text x="1618.4" y="728.3" textLength="45" lengthAdjust="spacingAndGlyphs">140.660</text>
<text x="1615" y="757.8" textLength="38.5" lengthAdjust="spacingAndGlyphs">0.3372</text>
<text x="1615" y="780.8" textLength="24.5" lengthAdjust="spacingAndGlyphs">0.00</text>
<text x="1615" y="802" textLength="42.5" lengthAdjust="spacingAndGlyphs">-0.3137</text>
<text x="1615" y="820.8">100</text>
<text x="1615" y="825.3" textLength="12" lengthAdjust="spacingAndGlyphs">70</text>
<text x="1615" y="839">30</text>
<text x="1615" y="844.5">0</text>
<text x="1618.4" y="150.5" fill="#091e3a" stroke="#091e3a" textLength="45" lengthAdjust="spacingAndGlyphs">146.539</text>
</g>
<g font-family="'Liberation Sans', sans-serif" font-weight="bold" fill="#ffffff" stroke="#ffffff" stroke-width="0.5" paint-order="stroke">
<text x="456.5" y="54.5" font-size="23" textLength="103" lengthAdjust="spacingAndGlyphs">USDJPY</text>
<text x="454.5" y="88" font-size="23" textLength="109.5" lengthAdjust="spacingAndGlyphs">H1 Chart</text>
<text x="1167.5" y="217" font-size="17" textLength="140" lengthAdjust="spacingAndGlyphs">125.70 - 126.20</text>
<text x="1195.7" y="367" font-size="16.5" textLength="88.6" lengthAdjust="spacingAndGlyphs">144.40-80</text>
<text x="1227.7" y="557" font-size="16.5" textLength="139.6" lengthAdjust="spacingAndGlyphs">142.80 - 143.30</text>
<text x="1260.3" y="82" font-size="16.5" fill="#1e90ff" stroke="#1e90ff" textLength="60.6" lengthAdjust="spacingAndGlyphs">147.50</text>
<text x="1318.5" y="22" font-size="16.5" fill="#1e90ff" stroke="#1e90ff" textLength="60.3" lengthAdjust="spacingAndGlyphs">148.80</text>
</g>
</svg>
</body></html>
